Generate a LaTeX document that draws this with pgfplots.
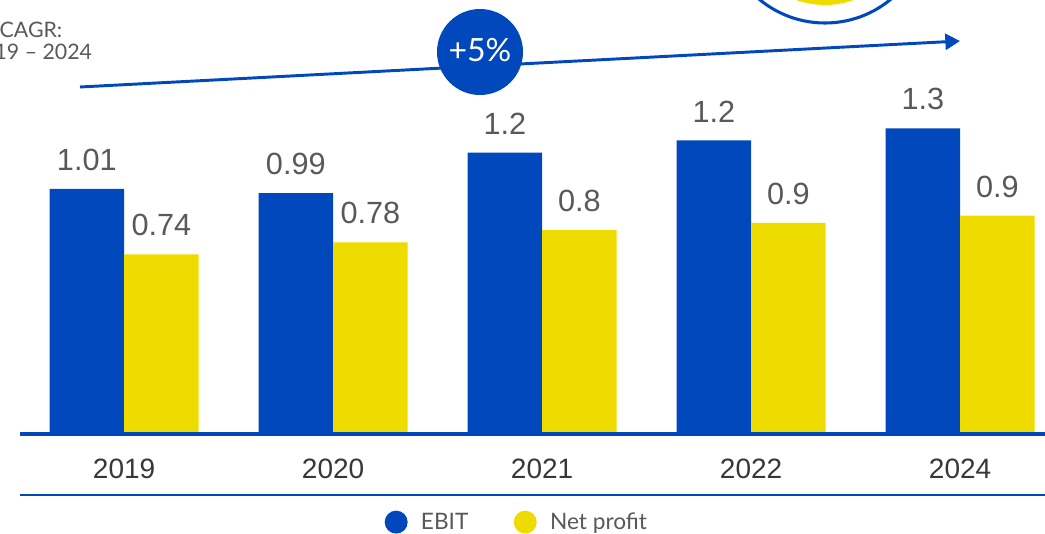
\documentclass[border=0pt]{standalone}
\usepackage{pgfplots}
\pgfplotsset{compat=1.18}
\usepackage{fontspec}
\setmainfont{Liberation Sans}
\newfontfamily\lato{Lato}
\usetikzlibrary{arrows.meta}
\definecolor{ebit}{RGB}{0,72,187}
\definecolor{netp}{RGB}{238,220,0}
\definecolor{txt}{RGB}{89,89,89}
\definecolor{tick}{RGB}{55,55,55}

\begin{document}
\begin{tikzpicture}[x=0.75pt,y=0.75pt]
% pixel grid of the reference: 1045 x 533, y counted from the bottom
\useasboundingbox (0,0) rectangle (1045,533);
\clip (0,0) rectangle (1045,533);

% decoration at the top
\fill[netp] (825,613) circle (85);
\draw[ebit, line width=2.3pt] (825,613) circle (103);
\draw[ebit, line width=2.2pt, -{Triangle[length=11pt,width=12pt]}] (80,446) -- (960,492);
\fill[ebit] (480,481) circle (43);
\node[text=white, font=\lato\fontsize{24}{28}\selectfont] at (480,483) {+5\%};
\node[text=txt, align=center, font=\lato\fontsize{16}{16.5}\selectfont] at (31,492) {CAGR:\\2019 – 2024};

\begin{axis}[
  at={(15pt,74.25pt)}, anchor=south west,
  x=156.75pt, y=181.95pt,
  xmin=-0.498, xmax=4.407,
  ymin=0, ymax=1.6,
  ybar=0pt, bar width=55.9pt,
  axis x line*=bottom, axis y line=none,
  x axis line style={draw=ebit, line width=2.3pt},
  axis on top,
  xtick=data, xticklabels={2019,2020,2021,2022,2024},
  xtick style={draw=none},
  xticklabel style={text=tick, inner sep=0pt, yshift=-14pt,
    font=\fontsize{21}{24}\selectfont},
  ytick=\empty,
  clip=false,
  point meta=explicit symbolic,
  nodes near coords={\pgfplotspointmeta},
  every node near coord/.append style={text=txt, anchor=south, inner sep=0pt,
    yshift=13.5pt, font=\fontsize{23}{26}\selectfont},
  legend columns=2,
  legend image code/.code={\fill[#1] (0pt,0pt) circle (8.6pt);},
  legend style={at={(0.485,-0.227)}, anchor=center, draw=none, fill=none,
    font=\lato\fontsize{17}{20}\selectfont, text=txt,
    /tikz/every odd column/.append style={column sep=8pt},
    /tikz/every even column/.append style={column sep=32pt}},
]
\addplot[draw=none, fill=ebit] coordinates {
  (0,1.01) [1.01]
  (1,0.993) [0.99]
  (2,1.16) [1.2]
  (3,1.21) [1.2]
  (4,1.26) [1.3]
};
\addplot[draw=none, fill=netp] coordinates {
  (0,0.74) [0.74]
  (1,0.79) [0.78]
  (2,0.84) [0.8]
  (3,0.87) [0.9]
  (4,0.90) [0.9]
};
\legend{EBIT, Net profit}
\end{axis}

\draw[ebit, line width=1.9pt] (20,38) -- (1045,38);
\end{tikzpicture}
\end{document}
